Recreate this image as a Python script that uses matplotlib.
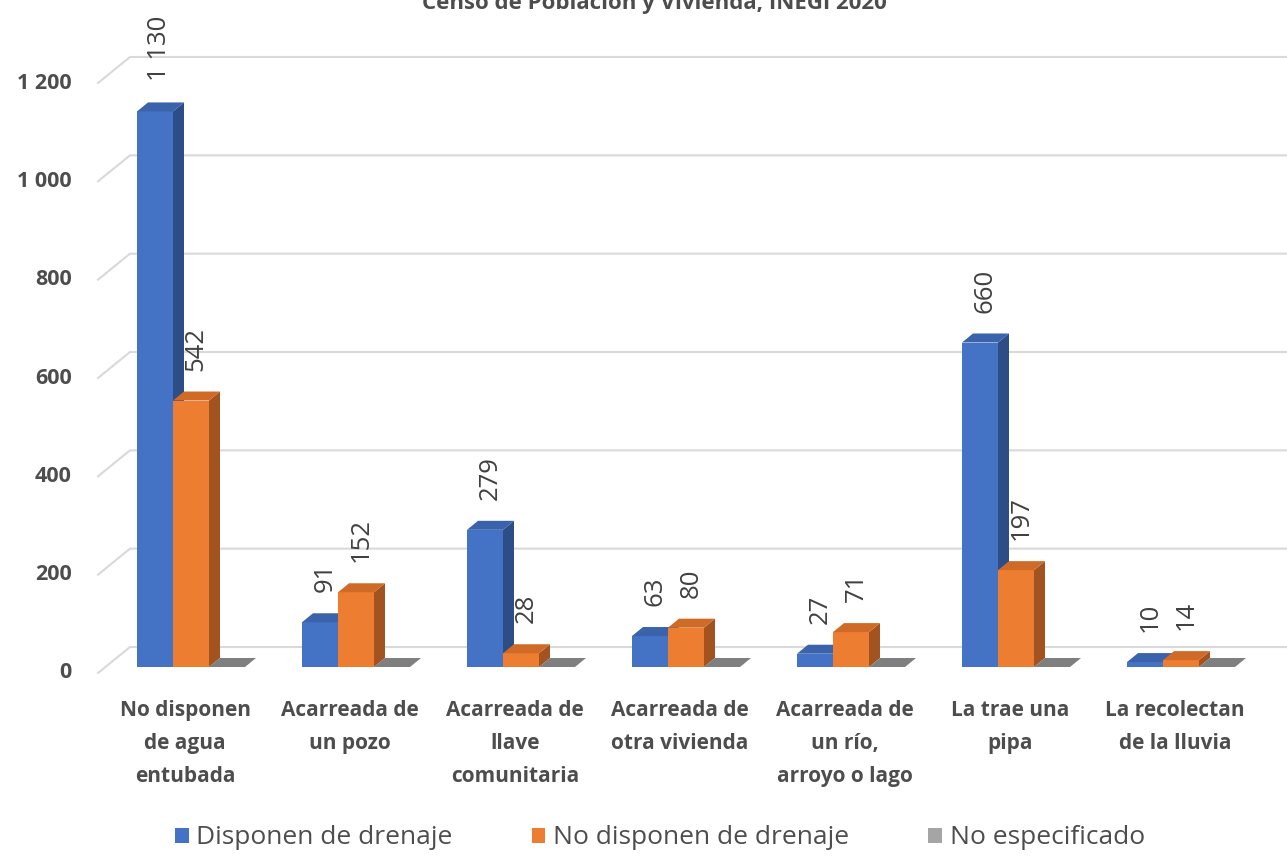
"""
Viviendas sin agua entubada por forma de abastecimiento y drenaje
Censo de Población y Vivienda, INEGI 2020
"""

import matplotlib
matplotlib.use("Agg")
import matplotlib.pyplot as plt
from matplotlib.patches import Polygon, Patch

plt.rcParams["font.family"] = ["Open Sans", "DejaVu Sans"]

# ---------------------------------------
# Data
# ---------------------------------------

categories = [
    "No disponen\nde agua\nentubada",
    "Acarreada de\nun pozo",
    "Acarreada de\nllave\ncomunitaria",
    "Acarreada de\notra vivienda",
    "Acarreada de\nun río,\narroyo o lago",
    "La trae una\npipa",
    "La recolectan\nde la lluvia",
]
series_names = ["Disponen de drenaje", "No disponen de drenaje", "No especificado"]
disponen = [1130, 91, 279, 63, 27, 660, 10]
no_disponen = [542, 152, 28, 80, 71, 197, 14]
no_especificado = [0, 0, 0, 0, 0, 0, 0]
y_ticks = [0, 200, 400, 600, 800, 1000, 1200]
y_tick_labels = ["0", "200", "400", "600", "800", "1 000", "1 200"]
title = "Censo de Población y Vivienda, INEGI 2020"

# ---------------------------------------
# Layout (pixels -> data units)
# ---------------------------------------

W, H = 1287, 856
PX_CAT = 165.0            # pixels per category
X0_PX = 191.0             # pixel of first category centre
Y0_PX = 673.0             # pixel of value 0 on the front plane
K = 590.0 / 1200.0        # pixels per unit value

def px_x(p):
    return p / PX_CAT

def px_y(p):
    return p / K

bar_w = px_x(36)
bar_dx, bar_dy = px_x(11), px_y(9)
wall_dx, wall_dy = px_x(32), px_y(26)
base = px_y(6)

front = {
    0: ("#4472C4", "#3A63AC", "#2C4D86"),
    1: ("#ED7D31", "#CF6B27", "#A2531F"),
    2: ("#A5A5A5", "#7F7F7F", "#6E6E6E"),
}
text_col = "#4D4D4D"

fig = plt.figure(figsize=(W / 100, H / 100), dpi=100)
ax = fig.add_axes([0, 0, 1, 1])
ax.set_xlim(-X0_PX / PX_CAT, (W - X0_PX) / PX_CAT)
ax.set_ylim(-(H - Y0_PX) / K, Y0_PX / K)
ax.axis("off")

# ---------------------------------------
# Back wall gridlines
# ---------------------------------------

wall_left = px_x(98 - X0_PX)
for v, lab in zip(y_ticks, y_tick_labels):
    ax.plot(
        [wall_left, wall_left + wall_dx, ax.get_xlim()[1]],
        [v, v + wall_dy, v + wall_dy],
        color="#D9D9D9", linewidth=1.5, zorder=1,
    )
    ax.text(
        px_x(72 - X0_PX), v, lab,
        ha="right", va="center", fontsize=15.5, color=text_col,
        fontweight="bold",
    )

# ---------------------------------------
# 3D bars
# ---------------------------------------

series = [disponen, no_disponen, no_especificado]

for i in range(len(categories)):
    for s, vals in enumerate(series):
        c_front, c_top, c_side = front[s]
        x0 = i - 1.5 * bar_w + s * bar_w
        x1 = x0 + bar_w
        y0 = base
        y1 = base + vals[i]
        z = 3 + s
        if vals[i] > 0:
            ax.add_patch(Polygon(
                [(x0, y0), (x1, y0), (x1, y1), (x0, y1)],
                closed=True, facecolor=c_front, edgecolor="none", zorder=z,
            ))
            ax.add_patch(Polygon(
                [(x1, y0), (x1 + bar_dx, y0 + bar_dy),
                 (x1 + bar_dx, y1 + bar_dy), (x1, y1)],
                closed=True, facecolor=c_side, edgecolor="none", zorder=z,
            ))
        ax.add_patch(Polygon(
            [(x0, y1), (x1, y1), (x1 + bar_dx, y1 + bar_dy), (x0 + bar_dx, y1 + bar_dy)],
            closed=True, facecolor=c_top, edgecolor="none", zorder=z,
        ))

        if s < 2:
            ax.annotate(
                f"{vals[i]:,}".replace(",", " "),
                xy=((x0 + x1) / 2, y1),
                xytext=(5, 30), textcoords="offset pixels",
                rotation=90, ha="center", va="bottom",
                fontsize=18.5, color="#404040", zorder=10,
            )

    ax.text(
        i - px_x(6), px_y(673 - 700), categories[i],
        ha="center", va="top", fontsize=15, color=text_col,
        linespacing=1.75, fontweight="bold",
    )

# ---------------------------------------
# Title and legend
# ---------------------------------------

fig.text(
    654 / W, 1 - 9 / H, title,
    ha="center", va="baseline", fontsize=16, fontweight="bold", color=text_col,
)

handles = [Patch(facecolor=front[s][0]) for s in range(3)]
fig.legend(
    handles, series_names,
    loc="center", bbox_to_anchor=(660 / W, 1 - 838 / H),
    ncol=3, frameon=False, fontsize=19, labelcolor=text_col,
    handlelength=0.5, handleheight=0.5, handletextpad=0.3,
    columnspacing=3.0,
)

fig.savefig("out.png", dpi=100)
plt.close(fig)
